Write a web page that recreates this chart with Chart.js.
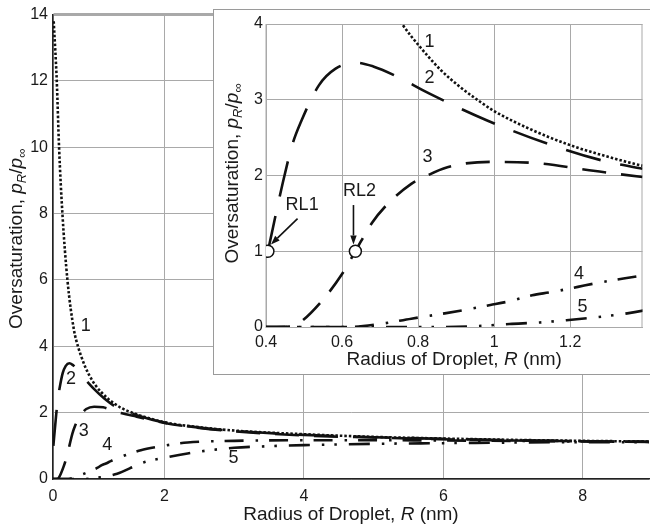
<!DOCTYPE html>
<html>
<head>
<meta charset="utf-8">
<script src="https://cdn.jsdelivr.net/npm/chart.js@4.4.1/dist/chart.umd.min.js"></script>
<style>
  html, body { margin: 0; padding: 0; background: #fff; }
  #wrap { position: relative; width: 650px; height: 527px; overflow: hidden; }
  #main { position: absolute; left: 0; top: 0; }
  #insetBox { position: absolute; left: 213px; top: 9px; width: 440px; height: 366px;
              box-sizing: border-box; border: 1.5px solid #9a9a9a; background: #fff; }
  #inset { position: absolute; left: 0; top: 0; }
</style>
</head>
<body>
<div id="wrap">
  <canvas id="main" width="650" height="527"></canvas>
  <div id="insetBox"><canvas id="inset" width="436" height="363"></canvas></div>
</div>
<script>
// ==========================================
// Data
// ==========================================
const mainXTicks = [0.4, 2, 4, 6, 8];
const mainXTickLabels = ['0', '2', '4', '6', '8'];
const mainYTicks = [0, 2, 4, 6, 8, 10, 12, 14];
const insetXTicks = [0.4, 0.6, 0.8, 1.0, 1.2];
const insetXTickLabels = ['0.4', '0.6', '0.8', '1', '1.2'];
const insetYTicks = [0, 1, 2, 3, 4];

// curve 1 - dotted
const curve1R = [0.41, 0.454, 0.487, 0.535, 0.607, 0.70, 0.758, 0.808, 0.86, 0.91, 0.964, 1.0, 1.1, 1.2, 1.29, 1.39, 1.6, 2.0, 2.5, 3.0, 4.0, 5.0, 6.0, 7.0, 8.0, 8.95];
const curve1S = [13.8, 12.0, 10.0, 8.0, 6.0, 4.5, 4.0, 3.68, 3.39, 3.17, 2.97, 2.85, 2.6, 2.4, 2.26, 2.13, 1.95, 1.71, 1.56, 1.46, 1.35, 1.27, 1.22, 1.18, 1.15, 1.13];
// curve 2 - long dash
const curve2R = [0.405, 0.444, 0.47, 0.492, 0.539, 0.583, 0.635, 0.682, 0.739, 0.83, 0.98, 1.14, 1.29, 1.39, 1.6, 2.0, 2.5, 3.0, 4.0, 5.0, 6.0, 7.0, 8.0, 8.95];
const curve2S = [1.0, 1.9, 2.42, 2.71, 3.19, 3.41, 3.49, 3.44, 3.32, 3.08, 2.73, 2.42, 2.19, 2.09, 1.92, 1.70, 1.55, 1.45, 1.33, 1.26, 1.21, 1.17, 1.14, 1.12];
// curve 3 - dash
const curve3R = [0.4, 0.47, 0.487, 0.548, 0.6, 0.635, 0.678, 0.721, 0.782, 0.808, 0.877, 0.99, 1.12, 1.25, 1.39, 1.6, 2.0, 2.5, 3.0, 4.0, 5.0, 6.0, 7.0, 8.0, 8.95];
const curve3S = [0, 0.01, 0.05, 0.35, 0.70, 1.0, 1.37, 1.63, 1.89, 1.96, 2.11, 2.18, 2.16, 2.07, 1.98, 1.88, 1.69, 1.54, 1.44, 1.31, 1.25, 1.2, 1.16, 1.14, 1.12];
// curve 4 - dash dot
const curve4R = [0.4, 0.62, 0.7, 0.782, 0.87, 0.916, 0.99, 1.04, 1.10, 1.15, 1.22, 1.27, 1.34, 1.39, 1.66, 1.9, 2.33, 3.0, 4.0, 5.0, 6.0, 7.0, 8.0, 8.95];
const curve4S = [0, 0, 0.04, 0.11, 0.18, 0.22, 0.29, 0.34, 0.42, 0.46, 0.53, 0.58, 0.64, 0.68, 0.87, 0.97, 1.1, 1.15, 1.17, 1.17, 1.16, 1.15, 1.13, 1.12];
// curve 5 - dash dot dot
const curve5R = [0.4, 0.85, 0.95, 1.04, 1.12, 1.19, 1.27, 1.35, 1.5, 1.7, 2.0, 2.33, 2.66, 3.0, 3.5, 4.0, 5.0, 6.0, 7.0, 8.0, 8.95];
const curve5S = [0, 0, 0.01, 0.04, 0.06, 0.09, 0.13, 0.18, 0.32, 0.5, 0.64, 0.77, 0.87, 0.94, 0.99, 1.02, 1.06, 1.08, 1.1, 1.11, 1.11];
// RL1 / RL2 markers
const rlR = [0.405, 0.635];
const rlS = [1.0, 1.0];

// ==========================================
// Styling helpers
// ==========================================
const FONT = "'Liberation Sans', Arial, sans-serif";
const INK = '#1a1a1a';
const GRID = '#a9a9a9';

const pts = (xs, ys) => xs.map((x, i) => ({ x, y: ys[i] }));

const curveStyles = [
  { r: curve1R, s: curve1S, dash: [2.5, 2], width: 2.6 },
  { r: curve2R, s: curve2S, dash: [36, 20], width: 2.6 },
  { r: curve3R, s: curve3S, dash: [24, 15], width: 2.6 },
  { r: curve4R, s: curve4S, dash: [19, 12, 2.5, 11], width: 2.6 },
  { r: curve5R, s: curve5S, dash: [21, 12, 2.5, 10, 2.5, 12], width: 2.6 },
];

const curveDatasets = () => curveStyles.map((c, i) => ({
  data: pts(c.r, c.s),
  borderColor: '#111',
  borderWidth: c.width,
  borderDash: c.dash,
  pointRadius: 0,
  cubicInterpolationMode: 'monotone',
  fill: false,
  order: i + 1,
}));

const xTitle = [{ t: 'Radius of Droplet, ' }, { t: 'R', i: true }, { t: ' (nm)' }];
const yTitle = [{ t: 'Oversaturation, ' }, { t: 'p', i: true }, { t: 'R', i: true, sub: true },
                { t: '/' }, { t: 'p', i: true }, { t: '\u221E', i: true, sub: true }];

function drawRich(ctx, parts, x, y, size, vertical) {
  ctx.save();
  ctx.translate(x, y);
  if (vertical) ctx.rotate(-Math.PI / 2);
  const fontOf = p => `${p.i ? 'italic ' : ''}${p.sub ? Math.round(size * 0.68) : size}px ${FONT}`;
  let total = 0;
  parts.forEach(p => { ctx.font = fontOf(p); total += ctx.measureText(p.t).width; });
  let cx = -total / 2;
  ctx.textBaseline = 'middle';
  ctx.textAlign = 'left';
  ctx.fillStyle = INK;
  parts.forEach(p => {
    ctx.font = fontOf(p);
    ctx.fillText(p.t, cx, p.sub ? size * 0.3 : 0);
    cx += ctx.measureText(p.t).width;
  });
  ctx.restore();
}

function drawArrow(ctx, x1, y1, x2, y2) {
  const a = Math.atan2(y2 - y1, x2 - x1);
  const head = 9, half = 3.2;
  ctx.save();
  ctx.strokeStyle = '#111';
  ctx.fillStyle = '#111';
  ctx.lineWidth = 1.6;
  ctx.beginPath();
  ctx.moveTo(x1, y1);
  ctx.lineTo(x2 - head * Math.cos(a), y2 - head * Math.sin(a));
  ctx.stroke();
  ctx.beginPath();
  ctx.moveTo(x2, y2);
  ctx.lineTo(x2 - head * Math.cos(a) + half * Math.sin(a), y2 - head * Math.sin(a) - half * Math.cos(a));
  ctx.lineTo(x2 - head * Math.cos(a) - half * Math.sin(a), y2 - head * Math.sin(a) + half * Math.cos(a));
  ctx.closePath();
  ctx.fill();
  ctx.restore();
}

// annotations: curve numbers, RL labels, arrows, axis titles
function makeNotes(cfg) {
  return {
    id: 'notes',
    beforeDatasetsDraw(chart) {
      if (!cfg.frame) return;
      const { ctx, chartArea: a } = chart;
      ctx.save();
      ctx.strokeStyle = GRID;
      ctx.lineWidth = 1;
      ctx.strokeRect(a.left, a.top + 0.5, a.right - a.left - 0.5, a.bottom - a.top);
      ctx.restore();
    },
    afterDatasetsDraw(chart) {
      const { ctx, chartArea: a, scales: { x, y } } = chart;
      ctx.save();
      ctx.fillStyle = INK;
      ctx.textAlign = 'center';
      ctx.textBaseline = 'middle';
      (cfg.labels || []).forEach(l => {
        ctx.font = `${l.size || 18}px ${FONT}`;
        ctx.fillText(l.t, x.getPixelForValue(l.x), y.getPixelForValue(l.y));
      });
      ctx.restore();
      (cfg.arrows || []).forEach(ar => drawArrow(ctx,
        x.getPixelForValue(ar[0]), y.getPixelForValue(ar[1]),
        x.getPixelForValue(ar[2]), y.getPixelForValue(ar[3])));
      drawRich(ctx, xTitle, (a.left + a.right) / 2, cfg.xTitleY, 19, false);
      drawRich(ctx, yTitle, cfg.yTitleX, (a.top + a.bottom) / 2 - cfg.yTitleShift, 19, true);
    }
  };
}

function fixedTicks(values) {
  return scale => { scale.ticks = values.map(v => ({ value: v })); };
}

function tickFont() {
  return { family: FONT, size: 16 };
}

// ==========================================
// Main chart
// ==========================================
new Chart(document.getElementById('main'), {
  type: 'line',
  data: { datasets: curveDatasets() },
  options: {
    responsive: false,
    animation: false,
    devicePixelRatio: 1,
    layout: { padding: { top: 10, right: 1, left: 0, bottom: 0 } },
    plugins: { legend: { display: false }, tooltip: { enabled: false } },
    scales: {
      x: {
        type: 'linear', min: 0.4, max: 8.95,
        afterBuildTicks: fixedTicks(mainXTicks),
        afterFit: s => { s.height = 48; },
        ticks: { font: tickFont(), color: INK, padding: 8, maxRotation: 0, autoSkip: false,
                 callback: (v, i) => mainXTickLabels[i] },
        grid: { color: GRID, lineWidth: 1, drawTicks: false },
        border: { color: '#222', width: 1.5 }
      },
      y: {
        type: 'linear', min: 0, max: 14,
        afterBuildTicks: fixedTicks(mainYTicks),
        afterFit: s => { s.width = 53; },
        ticks: { font: tickFont(), color: INK, padding: 5, autoSkip: false },
        grid: { color: GRID, drawTicks: false,
                lineWidth: c => (c.tick && c.tick.value === 14 ? 3 : 1) },
        border: { color: '#222', width: 1.5 }
      }
    }
  },
  plugins: [makeNotes({
    labels: [
      { t: '1', x: 0.87, y: 4.6 }, { t: '2', x: 0.66, y: 3.0 }, { t: '3', x: 0.84, y: 1.46 },
      { t: '4', x: 1.18, y: 1.03 }, { t: '5', x: 2.99, y: 0.63 }
    ],
    xTitleY: 515, yTitleX: 17, yTitleShift: 8
  })]
});

// ==========================================
// Inset chart
// ==========================================
const insetSets = [{
  data: pts(rlR, rlS),
  showLine: false,
  pointRadius: 6,
  pointBackgroundColor: '#fff',
  pointBorderColor: '#111',
  pointBorderWidth: 1.5,
  order: 0,
}].concat(curveDatasets());

new Chart(document.getElementById('inset'), {
  type: 'line',
  data: { datasets: insetSets },
  options: {
    responsive: false,
    animation: false,
    devicePixelRatio: 1,
    layout: { padding: { top: 14, right: 2, left: 0, bottom: 0 } },
    plugins: { legend: { display: false }, tooltip: { enabled: false } },
    scales: {
      x: {
        type: 'linear', min: 0.4, max: 1.39,
        afterBuildTicks: fixedTicks(insetXTicks),
        afterFit: s => { s.height = 46; },
        ticks: { font: tickFont(), color: INK, padding: 6, maxRotation: 0, autoSkip: false,
                 callback: (v, i) => insetXTickLabels[i] },
        grid: { color: GRID, lineWidth: 1, drawTicks: false },
        border: { color: GRID, width: 1 }
      },
      y: {
        type: 'linear', min: 0, max: 4,
        afterBuildTicks: fixedTicks(insetYTicks),
        afterFit: s => { s.width = 52; },
        ticks: { font: tickFont(), color: INK, padding: 3, autoSkip: false },
        grid: { color: GRID, lineWidth: 1, drawTicks: false },
        border: { color: GRID, width: 1 }
      }
    }
  },
  plugins: [makeNotes({
    frame: true,
    labels: [
      { t: '1', x: 0.83, y: 3.76 }, { t: '2', x: 0.83, y: 3.29 }, { t: '3', x: 0.825, y: 2.25 },
      { t: '4', x: 1.223, y: 0.705 }, { t: '5', x: 1.232, y: 0.26 },
      { t: 'RL1', x: 0.495, y: 1.61 }, { t: 'RL2', x: 0.646, y: 1.79 }
    ],
    arrows: [[0.483, 1.43, 0.413, 1.09], [0.63, 1.61, 0.63, 1.09]],
    xTitleY: 350, yTitleX: 19, yTitleShift: 2
  })]
});
</script>
</body>
</html>
